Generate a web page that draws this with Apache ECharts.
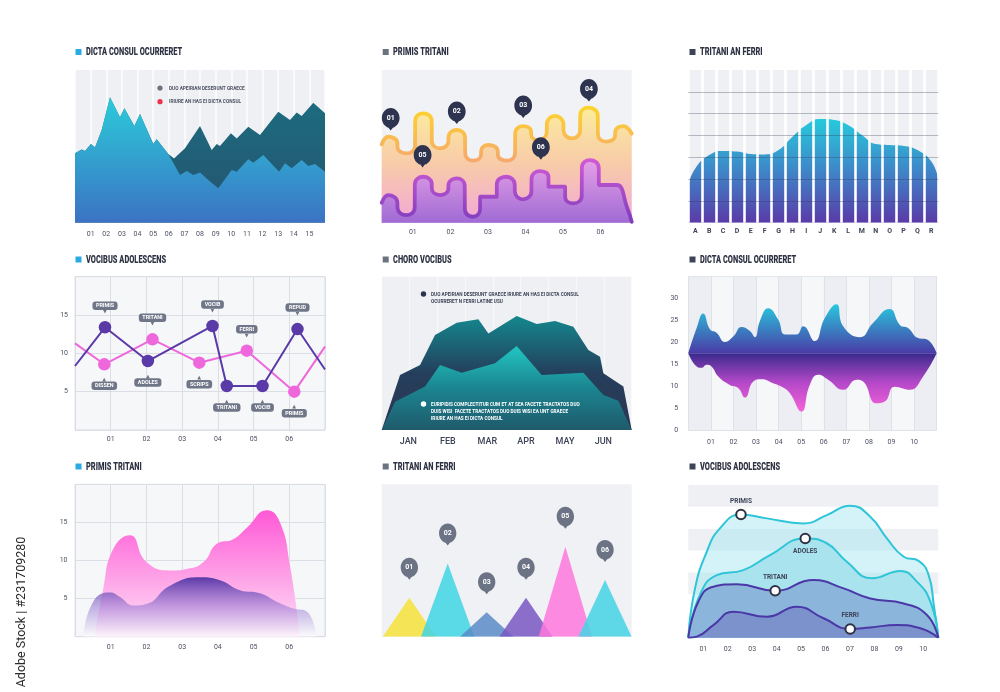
<!DOCTYPE html>
<html><head><meta charset="utf-8">
<script src="https://cdn.jsdelivr.net/npm/echarts@6/dist/echarts.min.js"></script>
<style>html,body{margin:0;padding:0;background:#fff}#c{width:1000px;height:692px}</style>
</head><body><div id="c"></div>
<script>
// ================= DATA =================
const panelTitles = ['DICTA CONSUL OCURRERET','PRIMIS TRITANI','TRITANI AN FERRI','VOCIBUS ADOLESCENS','CHORO VOCIBUS','DICTA CONSUL OCURRERET','PRIMIS TRITANI','TRITANI AN FERRI','VOCIBUS ADOLESCENS'];
const p1Ticks = ['01','02','03','04','05','06','07','08','09','10','11','12','13','14','15'];
const p1Legend = ['DUO APEIRIAN DESERUNT GRAECE','IRIURE AN HAS EI DICTA CONSUL'];
const p1Front = [[0,45.4],[0.43,48.0],[0.64,46.9],[1.02,51.5],[1.28,49.3],[1.71,60.7],[2.24,82.1],[2.88,69.0],[3.16,74.9],[3.80,63.3],[4.16,71.2],[5.01,51.5],[5.23,54.6],[5.97,45.0],[6.72,31.2],[7.15,33.8],[7.57,31.2],[8.0,32.8],[8.53,27.9],[9.17,22.5],[10.03,34.5],[10.35,33.4],[11.09,41.5],[11.41,39.3],[12.05,44.3],[13.06,33.4],[13.44,38.9],[13.87,35.6],[14.51,41.0],[14.93,37.1],[15.36,38.4],[16,33.4]];
const p1Back = [[0,45.4],[0.43,48.0],[0.64,46.9],[1.02,51.5],[1.28,49.3],[1.71,60.7],[2.24,82.1],[2.88,69.0],[3.16,74.9],[3.80,63.3],[4.16,71.2],[5.01,51.5],[5.23,54.6],[5.97,45.0],[6.34,42.1],[7.04,48.7],[7.15,47.6],[8.0,63.3],[8.75,47.6],[9.07,51.5],[9.28,50.2],[9.98,58.5],[10.35,55.2],[11.09,62.9],[11.84,57.4],[13.01,72.7],[13.76,67.2],[14.19,72.1],[14.51,69.9],[15.25,78.6],[16,71.6]];

const p2Ticks = ['01','02','03','04','05','06'];
// meander lines: each rounded cap = centre, level, kind (P = crest, V = trough, S = shoulder), between boundaries
const p2YellowCentres = [0.348,0.836,1.280,1.724,2.168,2.612,3.012,3.500,3.944,4.344,4.788,5.232,5.676,6.164,6.609];
const p2YellowLevels  = [56.3,45.4,71.6,48.7,60.7,40.6,50.9,40.6,63.3,54.1,69.9,55.2,75.3,53.1,63.3];
const p2YellowKinds   = ['P','V','P','V','P','V','P','V','P','V','P','V','P','V','P'];
const p2YellowBounds  = [0.17,0.587,1.058,1.502,1.946,2.390,2.817,3.261,3.722,4.149,4.566,5.010,5.454,5.925,6.387,6.83];
const p2PurpleCentres = [0.348,0.818,1.280,1.724,2.168,2.594,2.985,3.500,3.927,4.388,4.833,5.277,5.721,6.182];
const p2PurpleLevels  = [18.1,5.0,30.1,18.1,29.0,3.9,17.0,30.1,15.3,33.8,23.6,12.7,41.0,24.7];
const p2PurpleKinds   = ['P','V','P','V','P','V','S','P','V','P','S','V','P','S'];
const p2PurpleBounds  = [0.17,0.587,1.049,1.502,1.946,2.381,2.790,3.234,3.713,4.158,4.611,5.055,5.499,5.952,6.431];
const p2PurpleTail    = [[6.72,9.0],[6.83,0.5]];
const p2PinLabels = ['01','02','03','04','05','06'];
const p2PinPos = [[0.41,60.3],[2.17,64.6],[3.94,68.6],[5.69,79.3],[1.26,36.2],[4.41,41.3]];

const p3Letters = ['A','B','C','D','E','F','G','H','I','J','K','L','M','N','O','P','Q','R'];
const p3Curve = [[0,1.75],[0.5,2.49],[1.5,3.10],[2.5,3.29],[3.5,3.26],[4.5,3.15],[5.5,3.13],[6.5,3.33],[7.5,3.94],[8.5,4.48],[9.5,4.75],[10.5,4.71],[11.5,4.48],[12.5,4.02],[13.5,3.61],[14.5,3.56],[15.5,3.52],[16.5,3.33],[17.5,2.80],[18,2.0]];

const p4Ticks = ['01','02','03','04','05','06'];
const p4Purple = [[0,8.35],[0.84,13.4],[2.04,9.0],[3.85,13.57],[4.25,5.74],[5.25,5.74],[6.23,13.17],[7,7.9]];
const p4PurpleTags = [null,'PRIMIS','ADOLES','VOCIB','TRITANI','VOCIB','REPUD',null];
const p4Pink = [[0,11.3],[0.82,8.57],[2.17,11.83],[3.48,8.78],[4.81,10.35],[6.14,5.0],[7,10.87]];
const p4PinkTags = [null,'DISSEN','TRITANI','SCRIPS','FERRI','PRIMIS',null];

const p5Months = ['JAN','FEB','MAR','APR','MAY','JUN'];
const p5Legend1 = ['DUO APEIRIAN DESERUNT GRAECE IRIURE AN HAS EI DICTA CONSUL','OCURRERET N FERRI LATINE USU'];
const p5Legend2 = ['EURIPIDIS COMPLECTITUR CUM ET AT SEA FACETE TRACTATOS DUO','DUIS WISI  FACETE TRACTATOS DUO DUIS WISI EA UNT GRAECE','IRIURE AN HAS EI DICTA CONSUL'];
const p5Back = [[0,0],[0.66,35.9],[1.38,42.4],[1.92,62],[2.7,70],[3.48,72.2],[3.84,63],[4.86,74.3],[5.58,69.1],[6.24,71.1],[6.9,67.4],[7.44,52.2],[7.86,47.8],[7.98,37.0],[8.7,28.3],[9,0]];
const p5Front = [[0,0],[0.48,18.5],[1.56,28.3],[2.1,42.4],[2.88,37.4],[4.08,43.5],[4.86,54.8],[5.76,35.9],[7.26,37.4],[7.98,22.8],[8.52,19.1],[9,0]];

const p6Ticks = ['01','02','03','04','05','06','07','08','09','10'];
const p6Mid = 17.5;
const p6Upper = [[0,17.5],[0.37,23.3],[0.66,26.6],[0.96,23],[1.25,22.2],[1.62,20.1],[2.0,21.4],[2.36,23.5],[2.73,22.6],[2.95,21.2],[3.17,24.9],[3.54,27.8],[3.98,25.2],[4.28,21.8],[4.79,21.8],[5.09,23.7],[5.6,20.3],[6.05,25.6],[6.56,28.7],[6.86,23.7],[7.6,21.2],[8.19,24.5],[8.92,27.6],[9.37,24.0],[9.73,23.3],[10.18,21.0],[10.55,20.7],[11,17.5]];
const p6Lower = [[0,17.5],[0.37,14.5],[0.59,14.2],[0.81,14.9],[1.03,14.5],[1.33,12.2],[1.84,10.3],[2.21,9.6],[2.51,7.4],[2.88,11.1],[3.24,11.6],[3.76,10.7],[4.2,9.7],[4.5,8.4],[5.01,4.2],[5.38,10.3],[5.75,12.6],[6.19,11.5],[6.86,9.2],[7.45,11.5],[7.74,11.1],[8.33,6.1],[8.7,6.5],[9.14,9.9],[9.81,9.2],[10.4,12.2],[11,17.5]];

const p7Ticks = ['01','02','03','04','05','06'];
const p7Pink = [[0.55,0],[0.79,6.3],[1.07,11.5],[1.54,13.3],[2.0,9.8],[2.66,8.7],[3.13,8.9],[3.6,9.8],[3.97,12.2],[4.43,12.8],[4.81,14.3],[5.37,16.6],[5.74,15.0],[6.02,9.3],[6.3,0]];
const p7Purple = [[0.23,0],[0.51,4.6],[0.98,5.8],[1.26,5.2],[1.63,4.1],[2.0,4.3],[2.66,6.7],[3.5,7.8],[4.06,7.4],[4.62,6.1],[5.18,5.7],[5.65,4.6],[6.12,3.7],[6.49,3.3],[6.77,0]];

const p8Labels = ['01','02','03','04','05','06'];
const p8Centers = [1.66,3.96,6.3,8.66,11.02,13.4];
const p8Heights = [25.6,48.1,16,25.6,59.1,37.2];

const p9Ticks = ['01','02','03','04','05','06','07','08','09','10'];
const p9Curve1 = [[0.385,0],[0.66,2.26],[1.14,3.94],[1.68,5.01],[2.54,5.65],[3.6,5.47],[5.1,5.24],[6.05,5.62],[7.01,6.05],[7.83,5.55],[8.51,4.55],[9.2,3.71],[9.81,3.52],[10.22,2.87],[10.43,1.5],[10.615,0]];
const p9Curve2 = [[0.385,0],[0.86,1.96],[1.55,2.87],[2.64,3.10],[3.73,3.79],[5.17,4.55],[6.05,4.33],[6.87,3.48],[7.9,2.72],[9.06,3.06],[9.74,2.57],[10.29,1.65],[10.615,0]];
const p9Curve3 = [[0.385,0],[0.795,1.65],[1.41,2.34],[2.37,2.45],[3.94,2.15],[5.51,2.64],[6.74,2.26],[7.83,1.8],[9.2,1.57],[10.15,1.04],[10.615,0]];
const p9Curve4 = [[0.385,0],[0.73,0.05],[1.41,0.58],[2.23,1.19],[3.6,0.96],[4.82,1.42],[5.92,0.89],[7.01,0.40],[7.83,0.47],[8.92,0.58],[9.88,0.43],[10.615,0]];
const p9Markers = [{curve:0, idx:4, text:'PRIMIS', pos:'top'},{curve:1, idx:5, text:'ADOLES', pos:'bottom'},{curve:2, idx:4, text:'TRITANI', pos:'top'},{curve:3, idx:7, text:'FERRI', pos:'top'}];

const watermark = 'Adobe Stock | #231709280';

// ================= STYLE / LAYOUT =================
const FONT = "Roboto,'DejaVu Sans',sans-serif";
const NUM = "Roboto,'DejaVu Sans',sans-serif";
const PIN = 'path://M12,0C5.37,0,0,5.37,0,12c0,5.6,3.84,10.3,9,11.62L12,27l3-3.38C20.16,22.3,24,17.6,24,12C24,5.37,18.63,0,12,0z';
const p5MonthPos = [0.96, 2.38, 3.8, 5.19, 6.6, 7.98];
const p8Half = 1.6;
const capRound = 5; // rounding of meander caps (value units)
function vg(stops){return {type:'linear',x:0,y:0,x2:0,y2:1,colorStops:stops.map((c,i)=>({offset:i/(stops.length-1),color:c}))};}
const lab = (o)=>Object.assign({color:'#4b5163',fontSize:7,fontFamily:NUM},o||{});
const hid = {show:false};
const pad = (arr,lo,hi)=> v => (v>=lo && v<=hi) ? arr[Math.round(v)-lo] : '';

// build the meander path from the cap arrays
function meander(centres,levels,kinds,bounds,tail){
  const pts=[];
  const side=(i,j)=>{ const L=levels[i]; if(kinds[i]==='S') return L;
    const d = j<0||j>=levels.length ? capRound : Math.min(capRound, Math.abs(L-levels[j])*0.35);
    return kinds[i]==='P' ? L-d : L+d; };
  centres.forEach((c,i)=>{
    pts.push([bounds[i]+(i?0.004:0), side(i,i-1)]);
    pts.push([c, levels[i]]);
    pts.push([bounds[i+1], side(i,i+1)]);
  });
  return tail ? pts.concat(tail) : pts;
}

const grids = [
 {left:75,top:70,width:250,height:152.7,show:true,backgroundColor:'#eff0f4',borderWidth:0},
 {left:381.7,top:70,width:250,height:152.7,show:true,backgroundColor:'#f1f2f5',borderWidth:0},
 {left:688.3,top:70,width:250,height:152.7,show:true,backgroundColor:'#eff0f4',borderWidth:0},
 {left:75,top:276.7,width:250,height:153.3,show:true,backgroundColor:'#f6f7f9',borderColor:'#dcdee5',borderWidth:1},
 {left:381.7,top:276.7,width:250,height:153.3,show:true,backgroundColor:'#eff0f4',borderWidth:0},
 {left:688.3,top:276.7,width:248.4,height:153.3,show:true,backgroundColor:'#f3f4f7',borderWidth:0},
 {left:75,top:484.3,width:250,height:152.4,show:true,backgroundColor:'#f6f7f9',borderColor:'#dcdee5',borderWidth:1},
 {left:381.7,top:484.3,width:250,height:152.4,show:true,backgroundColor:'#f0f1f5',borderWidth:0},
 {left:688.3,top:485,width:250,height:152.7,show:false}
].map(g=>Object.assign({outerBoundsMode:'none',containLabel:false},g));

const base = {axisLine:hid,axisTick:hid};
const xAxis = [
 Object.assign({type:'value',gridIndex:0,min:0,max:16,interval:1,z:3,axisLabel:lab({margin:8.5,formatter:pad(p1Ticks,1,15)}),splitLine:{show:true,lineStyle:{color:'rgba(255,255,255,0.85)',width:1.6}}},base),
 Object.assign({type:'value',gridIndex:1,min:0.17,max:6.83,axisLabel:lab({margin:6.5,customValues:[1,2,3,4,5,6],formatter:v=>p2Ticks[Math.round(v)-1]}),splitLine:hid},base),
 Object.assign({type:'category',gridIndex:2,data:p3Letters,boundaryGap:true,z:4,axisLabel:lab({interval:0,margin:5,fontWeight:'bold',color:'#3d4457'}),splitLine:{show:true,interval:0,lineStyle:{color:'#ffffff',width:2.6}}},base),
 {type:'value',gridIndex:2,min:0,max:18,show:false},
 Object.assign({type:'value',gridIndex:3,min:0,max:7,interval:1,axisLabel:lab({margin:6,formatter:pad(p4Ticks,1,6)}),splitLine:{show:true,lineStyle:{color:'#dcdee5'}}},base),
 Object.assign({type:'value',gridIndex:4,min:0,max:9,interval:1,z:3,axisLabel:lab({margin:7,fontSize:9,fontWeight:500,color:'#3d4457',customValues:p5MonthPos,formatter:v=>{let b=0;p5MonthPos.forEach((p,i)=>{if(Math.abs(p-v)<Math.abs(p5MonthPos[b]-v))b=i;});return p5Months[b];}}),splitLine:{show:true,lineStyle:{color:'rgba(255,255,255,0.55)',width:1.3}}},base),
 Object.assign({type:'value',gridIndex:5,min:0,max:11,interval:1,axisLabel:lab({margin:8.5,formatter:pad(p6Ticks,1,10)}),splitLine:{show:true,lineStyle:{color:'#dfe1e8'}},splitArea:{show:true,areaStyle:{color:['#eceef3','#f6f7f9']}}},base),
 Object.assign({type:'value',gridIndex:6,min:0,max:7,interval:1,axisLabel:lab({margin:7.5,formatter:pad(p7Ticks,1,6)}),splitLine:{show:true,lineStyle:{color:'#dcdee5'}}},base),
 {type:'value',gridIndex:7,min:0,max:15,show:false},
 Object.assign({type:'value',gridIndex:8,min:0.385,max:10.615,axisLabel:lab({margin:8.5,customValues:[1,2,3,4,5,6,7,8,9,10],formatter:v=>p9Ticks[Math.round(v)-1]}),splitLine:hid},base)
];
const yAxis = [
 {type:'value',gridIndex:0,min:0,max:100,show:false},
 {type:'value',gridIndex:1,min:0,max:100,show:false},
 Object.assign({type:'value',gridIndex:2,min:0,max:7,interval:1,z:5,axisLabel:hid,splitLine:{show:true,showMinLine:false,showMaxLine:false,lineStyle:{color:'rgba(50,55,80,0.32)'}}},base),
 Object.assign({type:'value',gridIndex:3,min:0,max:20,interval:5,axisLabel:lab({margin:7,formatter:v=>(v>0&&v<20)?String(v):''}),splitLine:{show:true,lineStyle:{color:'#dcdee5'}}},base),
 {type:'value',gridIndex:4,min:0,max:100,show:false},
 Object.assign({type:'value',gridIndex:5,min:0,max:35,interval:5,axisLabel:lab({margin:10,formatter:v=>v<35?String(v):''}),splitLine:{show:true,lineStyle:{color:'#e0e2e8'}}},base),
 Object.assign({type:'value',gridIndex:6,min:0,max:20,interval:5,axisLabel:lab({margin:7.5,formatter:v=>(v>0&&v<20)?String(v):''}),splitLine:{show:true,lineStyle:{color:'#dcdee5'}}},base),
 {type:'value',gridIndex:7,min:0,max:100,show:false},
 Object.assign({type:'value',gridIndex:8,min:0,max:7,interval:1,axisLabel:hid,splitLine:hid,splitArea:{show:true,areaStyle:{color:['#eef0f4','#ffffff']}}},base)
];

const area = (x,y,data,fill,extra)=>Object.assign({type:'line',xAxisIndex:x,yAxisIndex:y,data:data,symbol:'none',lineStyle:{width:0},areaStyle:{opacity:1,color:fill},silent:true,animation:false},extra||{});

const tagLabel = (txt,pos)=>({show:true,position:pos,distance:7,fontFamily:FONT,
  formatter: pos==='top' ? '{t|'+txt+'}\n{a|▼}' : '{a|▲}\n{t|'+txt+'}',
  rich:{t:{backgroundColor:'#6f7688',color:'#fff',fontSize:5.4,fontWeight:'bold',fontFamily:FONT,padding:[2,3.5,1.5,3.5],borderRadius:3,align:'center'},
        a:{color:'#6f7688',fontSize:5,lineHeight:4,height:4,align:'center',fontFamily:'DejaVu Sans'}}});
const p4Topness = {purple:['top','bottom','top','bottom','bottom','top'], pink:['bottom','top','bottom','top','bottom']};
function p4Items(data,tags,poss){return data.map((d,i)=>{ if(!tags[i]) return {value:d,symbol:'none'}; return {value:d,label:tagLabel(tags[i],poss[i-1])}; });}

const series = [
 // P1
 area(0,0,p1Back,vg(['#1c6d80','#26516e'])),
 area(0,0,p1Front,vg(['#2bcbd9','#3b73c3'])),
 // P2
 {type:'line',xAxisIndex:1,yAxisIndex:1,data:meander(p2YellowCentres,p2YellowLevels,p2YellowKinds,p2YellowBounds),smooth:0.5,symbol:'none',animation:false,
  lineStyle:{width:3.8,cap:'round',join:'round',color:vg(['#fcd62a','#f6a76f'])},areaStyle:{opacity:1,color:vg(['#fbec9e','#f8caa9','#f2a8d8'])}},
 {type:'line',xAxisIndex:1,yAxisIndex:1,data:meander(p2PurpleCentres,p2PurpleLevels,p2PurpleKinds,p2PurpleBounds,p2PurpleTail),smooth:0.5,symbol:'none',animation:false,
  lineStyle:{width:3.8,cap:'round',join:'round',color:vg(['#d45bd4','#7b3dbd'])},areaStyle:{opacity:1,color:vg(['#e6a0e6','#a06bd5'])},
  markPoint:{symbol:PIN,symbolSize:[20,22.5],symbolKeepAspect:true,symbolOffset:[0,'-50%'],itemStyle:{color:'#2e3450'},
   label:{show:true,color:'#fff',fontSize:7,fontWeight:'bold',fontFamily:NUM,offset:[0,-1.3],formatter:p=>p.name},
   data:p2PinPos.map((c,i)=>({name:p2PinLabels[i],coord:c})),animation:false}},
 // P3
 area(3,2,p3Curve,vg(['#26cadc','#3f86c8','#5a3aa8']),{smooth:0.5}),
 // P4
 {type:'line',xAxisIndex:4,yAxisIndex:3,data:p4Items(p4Pink,p4PinkTags,p4Topness.pink),symbol:'circle',symbolSize:12.5,animation:false,
  lineStyle:{width:2,color:'#ee68dc'},itemStyle:{color:'#ee68dc'}},
 {type:'line',xAxisIndex:4,yAxisIndex:3,data:p4Items(p4Purple,p4PurpleTags,p4Topness.purple),symbol:'circle',symbolSize:12.5,animation:false,
  lineStyle:{width:2,color:'#5a3aa7'},itemStyle:{color:'#5a3aa7'}},
 // P5
 area(5,4,p5Back,vg(['#14878e','#243f5c','#2d3552'])),
 area(5,4,p5Front,vg(['#22c6c2','#1b8590','#1f5a6c'])),
 // P6
 area(6,5,p6Upper,null,{smooth:0.5,areaStyle:{opacity:1,origin:p6Mid,color:vg(['#28c8dd','#4b3aa6'])}}),
 area(6,5,p6Lower,null,{smooth:0.5,areaStyle:{opacity:1,origin:p6Mid,color:vg(['#3a2a8c','#b448c8','#f562da'])}}),
 // P7
 area(7,6,p7Pink,vg(['#ff58d6','#fde4f6']),{smooth:0.5}),
 area(7,6,p7Purple,vg(['#5a3aa7','rgba(150,120,210,0.55)','rgba(255,255,255,0.6)']),{smooth:0.5}),
];
// P8 triangles
const p8Colors = ['#f7e23b','#3fd5e4','#5b8bc7','#7857c2','#ff78dd','#44d3e3'];
p8Centers.forEach((c,i)=>{
  series.push({type:'line',xAxisIndex:8,yAxisIndex:7,data:[[c-p8Half,0],[c,p8Heights[i]],[c+p8Half,0]],symbol:'none',animation:false,
   lineStyle:{width:0},areaStyle:{opacity:0.85,color:p8Colors[i]},
   markPoint:{symbol:PIN,symbolSize:[19.5,22],symbolKeepAspect:true,symbolOffset:[0,-(11+18)],itemStyle:{color:'#6b7385'},
    label:{show:true,color:'#fff',fontSize:7,fontWeight:'bold',fontFamily:NUM,offset:[0,-1.2],formatter:p=>p.name},
    data:[{name:p8Labels[i],coord:[c,p8Heights[i]]}],animation:false}});
});
// P9
const p9Curves = [p9Curve1,p9Curve2,p9Curve3,p9Curve4];
const p9Line = ['#2ec5d8','#2ec5d8','#4a38a6','#4a38a6'];
const p9Fill = ['rgba(160,228,240,0.45)','#a9e3ee','#8cb5dc','#7b92cd'];
p9Curves.forEach((cv,k)=>{
  const data = cv.map((d,i)=>{
    const m = p9Markers.find(mm=>mm.curve===k && mm.idx===i);
    if(!m) return {value:d,symbol:'none'};
    return {value:d,symbol:'circle',symbolSize:9.5,itemStyle:{color:'#ffffff',borderColor:'#2d3142',borderWidth:2},
      label:{show:true,position:m.pos,distance:4,formatter:m.text,color:'#3d4457',fontSize:6.5,fontWeight:'bold',fontFamily:FONT}};
  });
  series.push({type:'line',xAxisIndex:9,yAxisIndex:8,data:data,smooth:0.5,animation:false,showSymbol:true,
    lineStyle:{width:2,color:p9Line[k]},areaStyle:{opacity:1,color:p9Fill[k]},z:2+k*0.01});
});

// ================= GRAPHICS =================
const squareColors = ['#29abe2','#6b7280','#3d4457','#29abe2','#6b7280','#3d4457','#29abe2','#6b7280','#3d4457'];
const colSq = [75.5,382.7,689.5], colTx = [86,393,700], rowY = [52,259.5,466.5];
const graphic = [];
function txt(s,x,y,fill,size,sx,weight){return {type:'text',z:100,x:x,y:y,scaleX:sx||1,
  style:{text:s,x:0,y:0,fill:fill,font:(weight||'bold')+' '+size+'px Roboto, sans-serif',textAlign:'left',textVerticalAlign:'middle',align:'left',verticalAlign:'middle'}};}
panelTitles.forEach((t,i)=>{
  const c=i%3, r=Math.floor(i/3);
  graphic.push({type:'rect',z:100,shape:{x:colSq[c],y:rowY[r]-3,width:6,height:6},style:{fill:squareColors[i]}});
  graphic.push(txt(t,colTx[c],rowY[r]+0.3,'#2d3142',11.8,0.63,'900'));
});
graphic.push({type:'circle',z:100,shape:{cx:160,cy:88,r:2.6},style:{fill:'#6b7280'}});
graphic.push(txt(p1Legend[0],169,88.3,'#4b5163',5.5,0.86));
graphic.push({type:'circle',z:100,shape:{cx:160,cy:101.7,r:2.6},style:{fill:'#e8334a'}});
graphic.push(txt(p1Legend[1],169,102,'#4b5163',5.5,0.86));
graphic.push({type:'circle',z:100,shape:{cx:423.5,cy:294,r:2.7},style:{fill:'#2d3250'}});
p5Legend1.forEach((s,i)=>graphic.push(txt(s,431,294.3+i*7.3,'#3d4457',5.4,0.87)));
graphic.push({type:'circle',z:100,shape:{cx:423.5,cy:404,r:2.7},style:{fill:'#ffffff'}});
p5Legend2.forEach((s,i)=>graphic.push(txt(s,431,404.3+i*7.3,'#ffffff',5.4,0.87)));
graphic.push({type:'text',z:100,x:22,y:612,rotation:Math.PI/2,style:{text:watermark,x:0,y:0,fill:'#2a2a2a',font:'12.5px Roboto, sans-serif',textAlign:'center',textVerticalAlign:'middle',align:'center',verticalAlign:'middle'}});

const chart = echarts.init(document.getElementById('c'),null,{renderer:'canvas'});
chart.setOption({backgroundColor:'#ffffff',animation:false,grid:grids,xAxis:xAxis,yAxis:yAxis,series:series,graphic:{elements:graphic}});
</script></body></html>
